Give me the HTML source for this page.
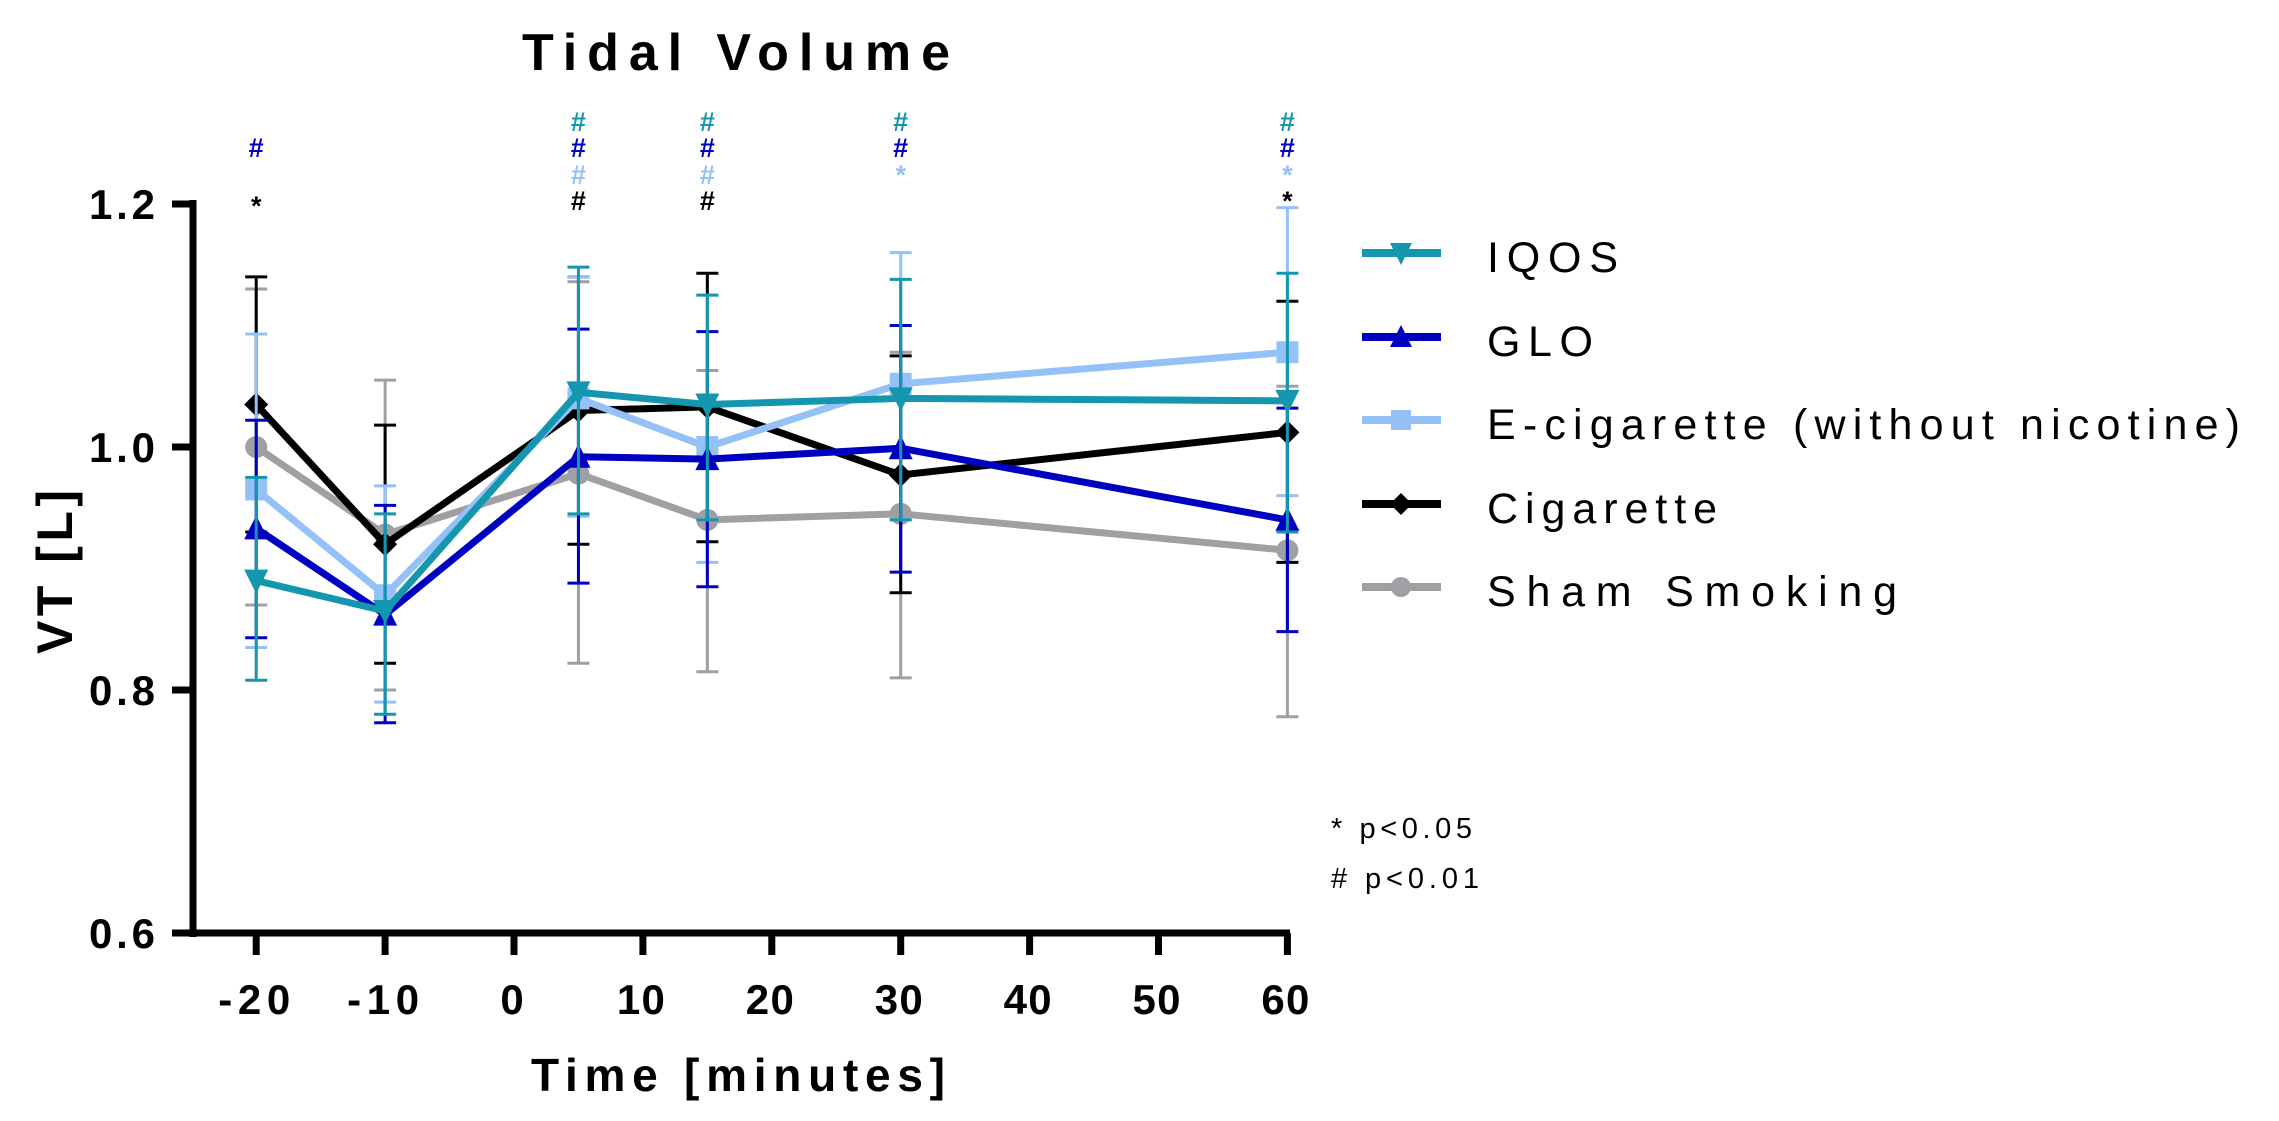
<!DOCTYPE html>
<html><head><meta charset="utf-8"><style>
html,body{margin:0;padding:0;background:#fff;}
svg{display:block;font-family:"Liberation Sans",Arial,sans-serif;}
</style></head><body>
<svg id="s" width="2279" height="1121" viewBox="0 0 2279 1121" xmlns="http://www.w3.org/2000/svg">
<text x="736" y="70" font-size="52" font-weight="bold" text-anchor="middle" textLength="428" lengthAdjust="spacing">Tidal Volume</text>
<g id="plot"></g>
<!-- axes -->
<line x1="193" y1="200" x2="193" y2="937" stroke="#000" stroke-width="7"/>
<line x1="172" y1="933" x2="1290" y2="933" stroke="#000" stroke-width="7"/>
<g stroke="#000" stroke-width="7">
<line x1="172" y1="204" x2="193" y2="204"/><line x1="172" y1="447" x2="193" y2="447"/><line x1="172" y1="690" x2="193" y2="690"/>
</g>
<g id="xt" stroke="#000" stroke-width="7"></g>
<g font-size="42" font-weight="bold" text-anchor="end">
<text x="155" y="219" textLength="66" lengthAdjust="spacing">1.2</text>
<text x="155" y="462" textLength="66" lengthAdjust="spacing">1.0</text>
<text x="155" y="705" textLength="66" lengthAdjust="spacing">0.8</text>
<text x="155" y="948" textLength="66" lengthAdjust="spacing">0.6</text>
</g>
<g id="xl" font-size="42" font-weight="bold" text-anchor="middle"></g>
<text x="738" y="1091" font-size="46" font-weight="bold" text-anchor="middle" textLength="414" lengthAdjust="spacing">Time [minutes]</text>
<text transform="translate(72,572) rotate(-90)" font-size="50" font-weight="bold" text-anchor="middle" textLength="164" lengthAdjust="spacing">VT [L]</text>
<g id="sig" font-size="27" font-weight="bold" text-anchor="middle"></g>
<g id="leg"></g>
<g font-size="29">
<text x="1331" y="838" textLength="141" lengthAdjust="spacing">* p&lt;0.05</text>
<text x="1331" y="888" textLength="148" lengthAdjust="spacing">#  p&lt;0.01</text>
</g>
</svg>
<script>
var NS="http://www.w3.org/2000/svg";
function X(t){return 514+12.89*t;}
function Y(v){return 447-(v-1)*1215;}
function el(p,tag,a,txt){var e=document.createElementNS(NS,tag);for(var k in a)e.setAttribute(k,a[k]);if(txt)e.textContent=txt;p.appendChild(e);return e;}
var T=[-20,-10,5,15,30,60];
var S=[
{n:"Sham Smoking",c:"#a0a0a4",m:"circle",v:[1.0,0.928,0.978,0.94,0.945,0.915],lo:[0.87,0.80,0.822,0.815,0.81,0.778],hi:[1.13,1.055,1.136,1.063,1.078,1.05]},
{n:"Cigarette",c:"#000000",m:"diamond",v:[1.035,0.92,1.03,1.033,0.977,1.012],lo:[0.93,0.822,0.92,0.922,0.88,0.905],hi:[1.14,1.018,1.14,1.143,1.075,1.12]},
{n:"E-cigarette (without nicotine)",c:"#94c1f7",m:"square",v:[0.965,0.878,1.04,1.0,1.052,1.078],lo:[0.835,0.79,0.943,0.905,0.94,0.96],hi:[1.093,0.968,1.14,1.125,1.16,1.197]},
{n:"GLO",c:"#0000c0",m:"up",v:[0.933,0.862,0.992,0.99,0.999,0.94],lo:[0.843,0.773,0.888,0.885,0.897,0.848],hi:[1.022,0.952,1.097,1.095,1.1,1.032]},
{n:"IQOS",c:"#1497ae",m:"down",v:[0.89,0.865,1.045,1.035,1.04,1.038],lo:[0.808,0.78,0.945,0.94,0.94,0.93],hi:[0.975,0.945,1.148,1.125,1.138,1.143]}
];
function marker(g,m,x,y,c,s){
 s=s||11;
 if(m=="circle")el(g,"circle",{cx:x,cy:y,r:s,fill:c});
 else if(m=="diamond")el(g,"polygon",{points:(x)+","+(y-s-1)+" "+(x+s+1)+","+y+" "+x+","+(y+s+1)+" "+(x-s-1)+","+y,fill:c});
 else if(m=="square")el(g,"rect",{x:x-s,y:y-s,width:2*s,height:2*s,fill:c});
 else if(m=="up")el(g,"polygon",{points:x+","+(y-s-2)+" "+(x+s+1)+","+(y+s)+" "+(x-s-1)+","+(y+s),fill:c});
 else el(g,"polygon",{points:x+","+(y+s+2)+" "+(x+s+1)+","+(y-s)+" "+(x-s-1)+","+(y-s),fill:c});
}
var P=document.getElementById("plot");
S.forEach(function(s){
 var g=el(P,"g",{});
 for(var i=0;i<6;i++){var x=X(T[i]);
  el(g,"line",{x1:x,y1:Y(s.lo[i]),x2:x,y2:Y(s.hi[i]),stroke:s.c,"stroke-width":3});
  el(g,"line",{x1:x-11,y1:Y(s.lo[i]),x2:x+11,y2:Y(s.lo[i]),stroke:s.c,"stroke-width":3});
  el(g,"line",{x1:x-11,y1:Y(s.hi[i]),x2:x+11,y2:Y(s.hi[i]),stroke:s.c,"stroke-width":3});
 }
 el(g,"polyline",{points:T.map(function(t,i){return X(t)+","+Y(s.v[i]);}).join(" "),fill:"none",stroke:s.c,"stroke-width":7,"stroke-linejoin":"miter"});
 for(var i=0;i<6;i++)marker(g,s.m,X(T[i]),Y(s.v[i]),s.c);
});
var xt=document.getElementById("xt"),xl=document.getElementById("xl");
[-20,-10,0,10,20,30,40,50,60].forEach(function(t){var x=X(t);
 el(xt,"line",{x1:x,y1:933,x2:x,y2:955});
 var w=String(t).length*24;
 el(xl,"text",{x:x-2,y:1014,textLength:w,lengthAdjust:"spacing"},String(t));
});
var C={t:"#1497ae",b:"#0000c0",l:"#94c1f7",k:"#000"};
var rows=[121,147,174,200];
var sig=document.getElementById("sig");
function mk(t,r,col,ch){el(sig,"text",{x:X(t),y:rows[r]+10,fill:C[col]},ch);}
mk(-20,1,"b","#");el(sig,"text",{x:X(-20),y:215,fill:"#000"},"*");
[5,15].forEach(function(t){mk(t,0,"t","#");mk(t,1,"b","#");mk(t,2,"l","#");mk(t,3,"k","#");});
mk(30,0,"t","#");mk(30,1,"b","#");mk(30,2,"l","*");
mk(60,0,"t","#");mk(60,1,"b","#");mk(60,2,"l","*");mk(60,3,"k","*");
var leg=document.getElementById("leg");
var ly=[253,337,420,504,587];
[4,3,2,1,0].forEach(function(si,k){var s=S[si],y=ly[k];
 el(leg,"line",{x1:1362,y1:y,x2:1441,y2:y,stroke:s.c,"stroke-width":8});
 marker(leg,s.m,1401,y,s.c,10);
 var tl={"IQOS":131,"GLO":106,"E-cigarette (without nicotine)":753,"Cigarette":230,"Sham Smoking":410}[s.n];
 el(leg,"text",{x:1487,y:y+19,"font-size":43,textLength:tl,lengthAdjust:"spacing"},s.n);
});
</script>
</body></html>
